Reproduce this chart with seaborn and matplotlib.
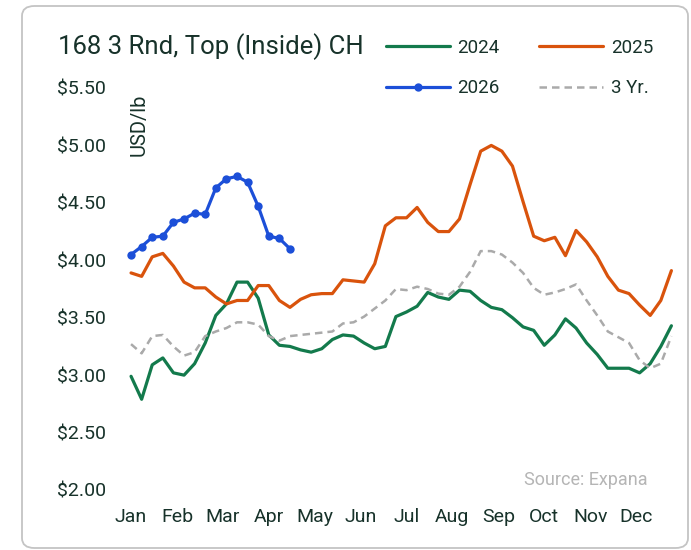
import matplotlib
matplotlib.use("Agg")
import matplotlib.pyplot as plt
from matplotlib.patches import FancyBboxPatch
import numpy as np
import pandas as pd
import seaborn as sns

# weekly prices, USD/lb
months = ["Jan", "Feb", "Mar", "Apr", "May", "Jun", "Jul", "Aug", "Sep", "Oct", "Nov", "Dec"]

y2024 = [2.99, 2.79, 3.09, 3.15, 3.02, 3.00, 3.10, 3.28, 3.52, 3.62,
         3.81, 3.81, 3.67, 3.35, 3.26, 3.25, 3.22, 3.20, 3.23, 3.31,
         3.35, 3.34, 3.28, 3.23, 3.25, 3.51, 3.55, 3.60, 3.72, 3.68,
         3.66, 3.74, 3.73, 3.65, 3.59, 3.57, 3.50, 3.42, 3.39, 3.26,
         3.35, 3.49, 3.41, 3.28, 3.18, 3.06, 3.06, 3.06, 3.02, 3.10,
         3.25, 3.43]

y2025 = [3.89, 3.86, 4.03, 4.06, 3.95, 3.81, 3.76, 3.76, 3.68, 3.62,
         3.65, 3.65, 3.78, 3.78, 3.65, 3.59, 3.66, 3.70, 3.71, 3.71,
         3.83, 3.82, 3.81, 3.97, 4.30, 4.37, 4.37, 4.46, 4.33, 4.25,
         4.25, 4.36, 4.66, 4.95, 5.00, 4.95, 4.82, 4.51, 4.21, 4.17,
         4.20, 4.04, 4.26, 4.16, 4.03, 3.86, 3.74, 3.71, 3.61, 3.52,
         3.65, 3.91]

y2026 = [4.05, 4.12, 4.20, 4.21, 4.33, 4.36, 4.41, 4.40, 4.63, 4.71,
         4.73, 4.68, 4.47, 4.21, 4.19, 4.10]

y3yr = [3.27, 3.19, 3.34, 3.35, 3.25, 3.17, 3.20, 3.34, 3.38, 3.41,
        3.46, 3.46, 3.44, 3.34, 3.30, 3.34, 3.35, 3.36, 3.37, 3.38,
        3.45, 3.46, 3.51, 3.58, 3.65, 3.75, 3.74, 3.77, 3.75, 3.71,
        3.70, 3.77, 3.90, 4.08, 4.08, 4.05, 3.98, 3.89, 3.76, 3.70,
        3.72, 3.75, 3.79, 3.65, 3.52, 3.38, 3.33, 3.28, 3.13, 3.06,
        3.10, 3.34]

yticks = [2.0, 2.5, 3.0, 3.5, 4.0, 4.5, 5.0, 5.5]

# colours
GREEN = "#137a4c"
ORANGE = "#d9530c"
BLUE = "#1c4fd8"
GREY = "#aaaaaa"
TEXT = "#17322a"

sns.set_theme(style="white")
plt.rcParams["font.family"] = ["Roboto", "DejaVu Sans"]

fig = plt.figure(figsize=(6.91, 5.50), dpi=100)

# rounded card behind the chart
card = FancyBboxPatch((22 / 691, 2 / 550), 666 / 691, 542 / 550,
                      boxstyle="round,pad=0,rounding_size=0.018",
                      transform=fig.transFigure, facecolor="white",
                      edgecolor="#c4c4c4", linewidth=1.3, zorder=-5)
fig.patches.append(card)

ax = fig.add_axes([125.75 / 691, 60 / 550, 556.25 / 691, 402 / 550])
ax.set_facecolor("none")

weeks = np.arange(52)
sns.lineplot(x=weeks, y=y2024, color=GREEN, linewidth=2.3, ax=ax, label="2024")
sns.lineplot(x=np.arange(len(y2026)), y=y2026, color=BLUE, linewidth=2.3,
             marker="o", markersize=6, markeredgewidth=0, ax=ax, label="2026")
sns.lineplot(x=weeks, y=y2025, color=ORANGE, linewidth=2.3, ax=ax, label="2025")
sns.lineplot(x=weeks, y=y3yr, color=GREY, linewidth=1.8, linestyle=(0, (3, 2)),
             ax=ax, label="3 Yr.")

ax.set_xlim(-0.5, 52)
ax.set_ylim(2.0, 5.5)
sns.despine(ax=ax, left=True, bottom=True)

ax.set_yticks(yticks)
ax.set_yticklabels([f"${v:.2f}" for v in yticks])
ax.set_xticks([m * 52 / 12 for m in range(12)])
ax.set_xticklabels(months)
ax.tick_params(axis="y", length=0, pad=49.5, labelsize=14, labelcolor=TEXT)
ax.tick_params(axis="x", length=0, pad=13, labelsize=14, labelcolor=TEXT)
for lab in ax.get_yticklabels():
    lab.set_horizontalalignment("left")
ax.set_xlabel("")
ax.set_ylabel("")

fig.text(58 / 691, 1 - 47 / 550, "168 3 Rnd, Top (Inside) CH", fontsize=18.5,
         color=TEXT, va="center", ha="left")
fig.text(139 / 691, 1 - 125 / 550, "USD/lb", fontsize=14.5, color=TEXT,
         rotation=90, va="center", ha="center")
fig.text(648 / 691, 1 - 480 / 550, "Source: Expana", fontsize=13,
         color="#b5b5b5", va="center", ha="right")

leg = ax.legend(ncol=2, loc="center left", bbox_to_anchor=(377 / 691, 1 - 68 / 550),
                bbox_transform=fig.transFigure, frameon=False, fontsize=13.5,
                handlelength=3.4, handletextpad=0.4, columnspacing=2.1,
                labelspacing=1.2, borderpad=0)
for t in leg.get_texts():
    t.set_color(TEXT)

fig.savefig("out.png", dpi=100)
